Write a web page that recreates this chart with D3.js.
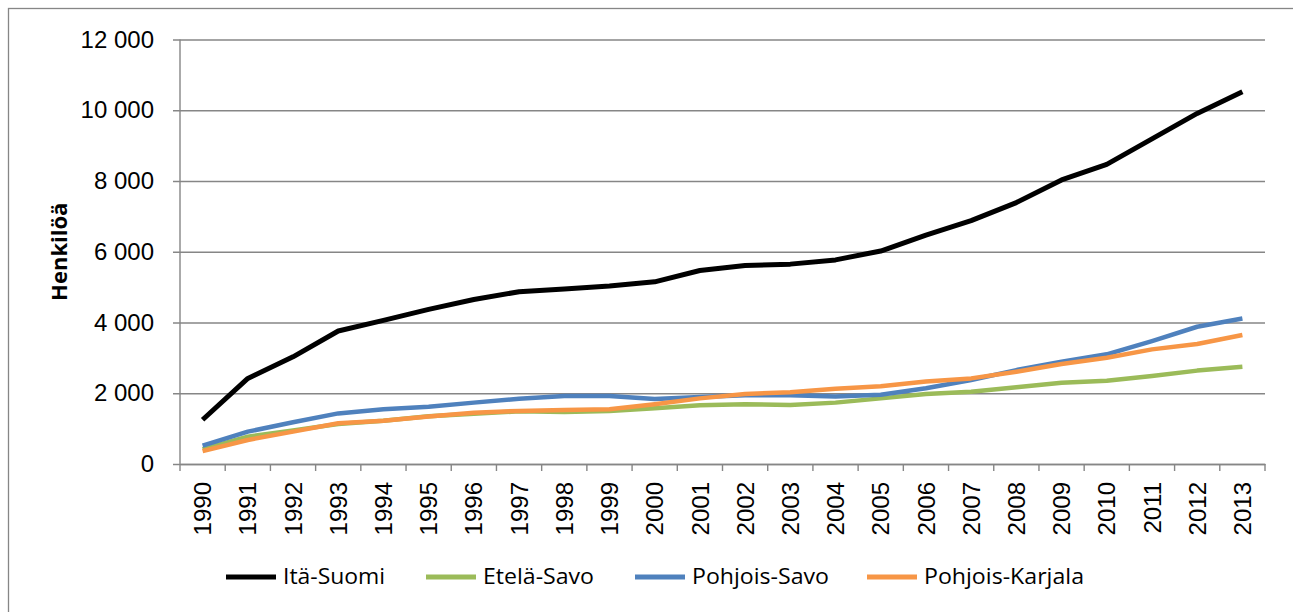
<!DOCTYPE html>
<html>
<head>
<meta charset="utf-8">
<script src="https://cdn.jsdelivr.net/npm/d3@7"></script>
<style>
  body { margin: 0; background: #fff; }
  svg { display: block; font-family: "Open Sans", "Liberation Sans", sans-serif; }
</style>
</head>
<body>
<div id="chart"></div>
<script>
// years on the x axis
const years = d3.range(1990, 2014).map(String);

// values (persons)
const itaSuomi = [1250, 2420, 3030, 3760, 4060, 4370, 4650, 4870, 4950, 5030, 5150, 5470, 5610, 5650, 5770, 6020, 6470, 6880, 7390, 8030, 8470, 9190, 9910, 10520];
const etelaSavo = [420, 770, 950, 1130, 1220, 1350, 1420, 1490, 1470, 1500, 1575, 1660, 1690, 1670, 1735, 1855, 1980, 2045, 2170, 2300, 2355, 2490, 2640, 2750];
const pohjoisSavo = [520, 915, 1180, 1430, 1545, 1620, 1735, 1845, 1920, 1920, 1835, 1895, 1940, 1940, 1910, 1960, 2140, 2375, 2655, 2890, 3100, 3475, 3880, 4115];
const pohjoisKarjala = [365, 680, 915, 1150, 1225, 1340, 1450, 1500, 1525, 1545, 1690, 1855, 1980, 2025, 2130, 2195, 2330, 2420, 2610, 2825, 3005, 3240, 3390, 3645];

const seriesNames = ["Itä-Suomi", "Etelä-Savo", "Pohjois-Savo", "Pohjois-Karjala"];
const yTicks = [0, 2000, 4000, 6000, 8000, 10000, 12000];

const series = [
    {name: seriesNames[0], values: itaSuomi, color: "#000000", w: 5},
    {name: seriesNames[1], values: etelaSavo, color: "#9BBB59", w: 4.5},
    {name: seriesNames[2], values: pohjoisSavo, color: "#4F81BD", w: 4.5},
    {name: seriesNames[3], values: pohjoisKarjala, color: "#F79646", w: 4.5}
];

const W = 1293, H = 612;
const plot = {left: 180, right: 1265, top: 39.5, bottom: 464};

const svg = d3.select("#chart").append("svg")
    .attr("width", W)
    .attr("height", H);

// outer frame (right and bottom edges fall outside the picture)
svg.append("rect")
    .attr("x", 8.5).attr("y", 8.5)
    .attr("width", W + 20).attr("height", H + 20)
    .attr("fill", "none")
    .attr("stroke", "#868686")
    .attr("stroke-width", 1.3);

const x = d3.scaleBand().domain(years).range([plot.left, plot.right]);
const y = d3.scaleLinear().domain([0, 12000]).range([plot.bottom, plot.top]);

const fmt = v => d3.format(",")(v).replace(/,/g, " ");

// y axis with gridlines
const yAxis = svg.append("g")
    .attr("transform", "translate(" + plot.left + ",0)")
    .call(d3.axisLeft(y).tickValues(yTicks).tickFormat(fmt)
        .tickSize(-(plot.right - plot.left)).tickPadding(26));
yAxis.select(".domain").remove();
yAxis.selectAll(".tick line")
    .attr("x1", -7)
    .attr("stroke", "#868686")
    .attr("stroke-width", 1.4);
yAxis.selectAll(".tick text")
    .style("font-size", "24px")
    .attr("fill", "#000");

// vertical axis line
svg.append("line")
    .attr("x1", plot.left).attr("x2", plot.left)
    .attr("y1", plot.top).attr("y2", plot.bottom)
    .attr("stroke", "#868686").attr("stroke-width", 1.4);

// x axis: ticks between categories, labels rotated
const xAxis = svg.append("g")
    .attr("transform", "translate(0," + plot.bottom + ")")
    .call(d3.axisBottom(x).tickSize(0).tickPadding(0));
xAxis.select(".domain")
    .attr("stroke", "#868686").attr("stroke-width", 1.4);
xAxis.selectAll(".tick text")
    .attr("transform", "rotate(-90)")
    .attr("text-anchor", "end")
    .attr("dy", "0.36em")
    .attr("x", -18)
    .attr("y", 0)
    .style("font-size", "24px")
    .attr("fill", "#000");

const edges = years.map(d => x(d)).concat([plot.right]);
svg.append("g").selectAll("line").data(edges).join("line")
    .attr("x1", d => d).attr("x2", d => d)
    .attr("y1", plot.bottom).attr("y2", plot.bottom + 7)
    .attr("stroke", "#868686").attr("stroke-width", 1.4);

// y title
svg.append("text")
    .attr("transform", "translate(67," + ((plot.top + plot.bottom) / 2) + ") rotate(-90)")
    .attr("text-anchor", "middle")
    .style("font-size", "22px")
    .style("font-weight", "bold")
    .text("Henkilöä");

// lines
const line = d3.line()
    .x((d, i) => x(years[i]) + x.bandwidth() / 2)
    .y(d => y(d));

svg.append("g").selectAll("path").data(series).join("path")
    .attr("d", d => line(d.values))
    .attr("fill", "none")
    .attr("stroke", d => d.color)
    .attr("stroke-width", d => d.w)
    .attr("stroke-linejoin", "round");

// legend
const legendX = [226, 426, 635, 867];
const legendTextW = [102, 111, 137, 160];
const legendY = 577;
const lg = svg.append("g").selectAll("g").data(series).join("g")
    .attr("transform", (d, i) => "translate(" + legendX[i] + "," + legendY + ")");
lg.append("line")
    .attr("x1", 0).attr("x2", 50)
    .attr("stroke", d => d.color)
    .attr("stroke-width", 5);
lg.append("text")
    .attr("x", 57)
    .attr("dy", "0.35em")
    .attr("textLength", (d, i) => legendTextW[i])
    .attr("lengthAdjust", "spacingAndGlyphs")
    .style("font-size", "21px")
    .text(d => d.name);
</script>
</body>
</html>
